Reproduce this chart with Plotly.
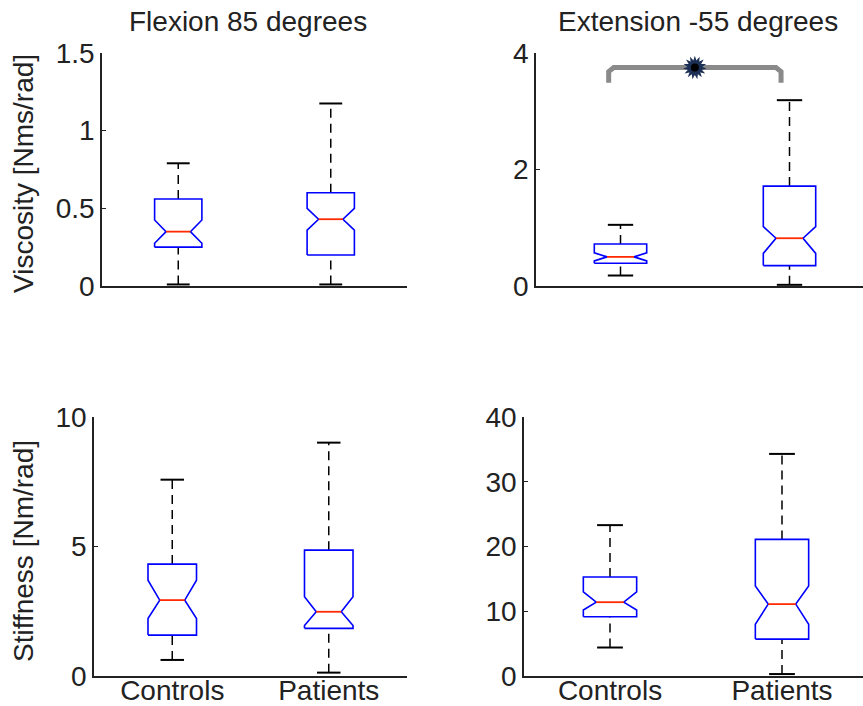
import plotly.graph_objects as go

# ---- data: box statistics per panel (controls, patients) ----
groups = ["Controls", "Patients"]
stat_names = ["lower", "q1", "notch_lo", "median", "notch_hi", "q3", "upper"]

visc_flex_controls = [0.01, 0.25, 0.275, 0.35, 0.425, 0.56, 0.79]
visc_flex_patients = [0.01, 0.20, 0.36, 0.43, 0.50, 0.60, 1.175]
visc_ext_controls = [0.18, 0.39, 0.43, 0.50, 0.57, 0.72, 1.05]
visc_ext_patients = [0.02, 0.35, 0.56, 0.82, 1.02, 1.715, 3.19]
stiff_flex_controls = [0.62, 1.58, 2.22, 2.93, 3.70, 4.32, 7.58]
stiff_flex_patients = [0.13, 1.84, 1.95, 2.48, 3.06, 4.86, 9.01]
stiff_ext_controls = [4.4, 9.15, 10.2, 11.4, 13.0, 15.3, 23.3]
stiff_ext_patients = [0.3, 5.7, 8.0, 11.1, 13.9, 21.1, 34.3]

titles = ["Flexion 85 degrees", "Extension -55 degrees"]
ylabels = ["Viscosity [Nms/rad]", "Stiffness [Nm/rad]"]

yticks_visc_flex = [0, 0.5, 1, 1.5]
yticks_visc_ext = [0, 2, 4]
yticks_stiff_flex = [0, 5, 10]
yticks_stiff_ext = [0, 10, 20, 30, 40]

# significance bracket between groups in the extension viscosity panel
sig_x = [0.93, 1.95]
sig_y_base = 3.49
sig_y_top = 3.75

BLUE = "#0000ff"
RED = "#ff2a00"
INK = "#222222"
FONT = "Liberation Sans"
FS = 28

W, H = 863, 706

fig = go.Figure()

# axis name pairs and their domains (pixel boxes converted to paper coords)
panels = [
    dict(xa="x", ya="y", data=[visc_flex_controls, visc_flex_patients],
         px=(102, 407), py=(53, 286), xr=[0.5, 2.5], yr=[0, 1.5], yt=yticks_visc_flex,
         labels=False),
    dict(xa="x2", ya="y2", data=[visc_ext_controls, visc_ext_patients],
         px=(536, 863), py=(53, 286), xr=[0.5, 0.5 + 327 / 169], yr=[0, 4], yt=yticks_visc_ext,
         labels=False),
    dict(xa="x3", ya="y3", data=[stiff_flex_controls, stiff_flex_patients],
         px=(94, 407), py=(417, 676), xr=[0.5, 2.5], yr=[0, 10], yt=yticks_stiff_flex,
         labels=True),
    dict(xa="x4", ya="y4", data=[stiff_ext_controls, stiff_ext_patients],
         px=(524, 863), py=(417, 676), xr=[0.5, 0.5 + 339 / 172], yr=[0, 40], yt=yticks_stiff_ext,
         labels=True),
]

BOX_HW = 0.155   # half width of a box
NOTCH_HW = 0.08  # half width at the notch waist
CAP_HW = 0.075   # half width of whisker caps


def add_box(xa, ya, xc, s):
    lo, q1, nlo, med, nhi, q3, hi = s
    # dashed whiskers
    for a, b in ((q3, hi), (lo, q1)):
        fig.add_trace(go.Scatter(x=[xc, xc], y=[a, b], mode="lines", xaxis=xa, yaxis=ya,
                                 line=dict(color="black", width=1.5, dash="9px,6px"),
                                 hoverinfo="skip", showlegend=False))
    # whisker caps
    for v in (lo, hi):
        fig.add_trace(go.Scatter(x=[xc - CAP_HW, xc + CAP_HW], y=[v, v], mode="lines",
                                 xaxis=xa, yaxis=ya, line=dict(color="black", width=2),
                                 hoverinfo="skip", showlegend=False))
    # notched box outline
    bx = [xc - BOX_HW, xc - BOX_HW, xc - NOTCH_HW, xc - BOX_HW, xc - BOX_HW,
          xc + BOX_HW, xc + BOX_HW, xc + NOTCH_HW, xc + BOX_HW, xc + BOX_HW, xc - BOX_HW]
    by = [q1, nlo, med, nhi, q3, q3, nhi, med, nlo, q1, q1]
    fig.add_trace(go.Scatter(x=bx, y=by, mode="lines", xaxis=xa, yaxis=ya,
                             line=dict(color=BLUE, width=1.6),
                             hoverinfo="skip", showlegend=False))
    # median
    fig.add_trace(go.Scatter(x=[xc - NOTCH_HW, xc + NOTCH_HW], y=[med, med], mode="lines",
                             xaxis=xa, yaxis=ya, line=dict(color=RED, width=1.8),
                             hoverinfo="skip", showlegend=False))


layout_axes = {}
for i, p in enumerate(panels):
    for j, stats in enumerate(p["data"]):
        add_box(p["xa"], p["ya"], j + 1, stats)
    xname = "xaxis" if i == 0 else f"xaxis{i + 1}"
    yname = "yaxis" if i == 0 else f"yaxis{i + 1}"
    layout_axes[xname] = dict(
        domain=[p["px"][0] / W, min(p["px"][1] / W, 1.0)],
        anchor=p["ya"], range=p["xr"], showgrid=False, zeroline=False, automargin=False,
        showline=True, linecolor=INK, linewidth=1.5, ticks="", ticklabelstandoff=-11,
        tickvals=[1, 2], ticktext=groups, showticklabels=p["labels"],
        tickfont=dict(family=FONT, size=FS, color=INK), fixedrange=True,
    )
    layout_axes[yname] = dict(
        domain=[1 - p["py"][1] / H, 1 - p["py"][0] / H],
        anchor=p["xa"], range=p["yr"], showgrid=False, zeroline=False, automargin=False,
        showline=True, linecolor=INK, linewidth=1.5, ticks="inside", ticklen=4,
        tickcolor=INK, tickvals=p["yt"], ticktext=[f"{v:g}" for v in p["yt"]],
        tickfont=dict(family=FONT, size=FS, color=INK), fixedrange=True,
    )

# significance bracket and marker
fig.add_trace(go.Scatter(
    x=[sig_x[0], sig_x[0], sig_x[0] + 0.03, sig_x[1] - 0.03, sig_x[1], sig_x[1]],
    y=[sig_y_base, sig_y_top - 0.07, sig_y_top, sig_y_top, sig_y_top - 0.07, sig_y_base],
    mode="lines", xaxis="x2", yaxis="y2", line=dict(color="#8a8a8a", width=5),
    hoverinfo="skip", showlegend=False))
sig_xm = (sig_x[0] + sig_x[1]) / 2
for ang in (0, 24, 48):
    fig.add_trace(go.Scatter(x=[sig_xm], y=[sig_y_top], mode="markers", xaxis="x2", yaxis="y2",
                             marker=dict(symbol="star", size=17, angle=ang, color="#1c2f55",
                                         line=dict(width=0)),
                             hoverinfo="skip", showlegend=False))
fig.add_trace(go.Scatter(x=[sig_xm], y=[sig_y_top], mode="markers", xaxis="x2", yaxis="y2",
                         marker=dict(symbol="circle", size=13, color="#1c2f55", line=dict(width=0)),
                         hoverinfo="skip", showlegend=False))
fig.add_trace(go.Scatter(x=[sig_xm], y=[sig_y_top], mode="markers", xaxis="x2", yaxis="y2",
                         marker=dict(symbol="circle", size=8, color="black", line=dict(width=0)),
                         hoverinfo="skip", showlegend=False))

annotations = [
    dict(text=titles[0], x=247.5 / W, y=1 - 22 / H),
    dict(text=titles[1], x=697.5 / W, y=1 - 22 / H),
    dict(text=ylabels[0], x=23 / W, y=1 - 174 / H, textangle=-90),
    dict(text=ylabels[1], x=23 / W, y=1 - 551 / H, textangle=-90),
]
for a in annotations:
    a.update(xref="paper", yref="paper", xanchor="center", yanchor="middle",
             showarrow=False, font=dict(family=FONT, size=FS, color=INK))

fig.update_layout(
    template="none",
    width=W, height=H, margin=dict(l=0, r=0, t=0, b=0, autoexpand=False),
    paper_bgcolor="white", plot_bgcolor="white",
    annotations=annotations, **layout_axes,
)

fig.write_html("out.html", config={"displayModeBar": False})
